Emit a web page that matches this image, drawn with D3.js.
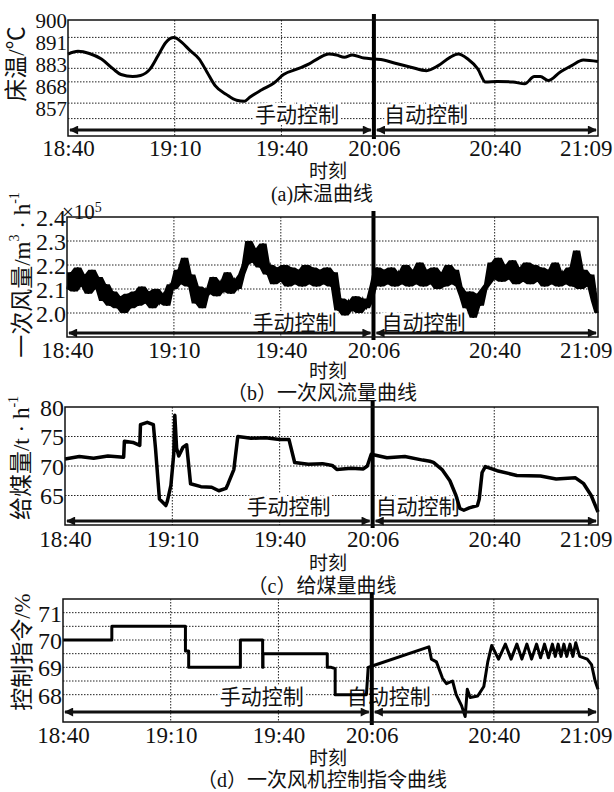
<!DOCTYPE html>
<html>
<head>
<meta charset="utf-8">
<script src="https://cdn.jsdelivr.net/npm/d3@7"></script>
<style>
body { margin: 0; background: #fff; }
text { font-family: "Liberation Serif", "Noto Sans CJK SC", serif; fill: #111; }
</style>
</head>
<body>
<div id="chart-area"></div>
<script>
// time axis
var timeLabels = ["18:40", "19:10", "19:40", "20:06", "20:40", "21:09"];
var switchLabel = "20:06";

// (a) bed temperature, minutes after 18:40
var bedTime = [0, 2.8, 6, 9.4, 12.7, 14.9, 18.2, 20.4, 23.1, 25.3, 27.5, 29.8, 32, 34.2, 36.9, 39.1, 41.3, 44.6, 47.4, 49.6,
    51.2, 54.5, 57.9, 60.6, 64.5, 67.8, 70.5, 73.3, 75.5, 77.7, 79.9, 83.2, 86.2, 88.7, 92, 96.4, 100.8, 104.1, 107.4, 109.7,
    112.4, 115.2, 117.4, 120.7, 125.1, 128.4, 131.1, 132.8, 135, 138.3, 141.6, 144.9, 149];
var bedTemp = [882.4, 883.8, 882.7, 879.8, 874.7, 871.8, 870.8, 871.3, 874.7, 881.5, 888.4, 890.9, 888.4, 884.4, 879.8, 873, 866.2, 861.4, 858.5, 858,
    860.2, 863.9, 867.4, 871.8, 874.7, 877.3, 880.3, 882.4, 881.9, 880.7, 881.9, 880.3, 879.8, 879.3, 877.6, 875.6, 873.8, 876.4, 880.7, 882.4,
    879.8, 874.7, 867.9, 868.2, 867.9, 867, 870.8, 870.8, 868.7, 873, 876.4, 879.3, 878.5];
var bedTicks = [900, 891, 883, 868, 857];
var bedGrid = [849, 857, 868, 875, 883, 891];

// (b) primary air flow (x10^5 m3/h), one reading per minute from 18:40
var airflow = [
    2.10, 2.17, 2.09, 2.19, 2.11, 2.16, 2.08, 2.18, 2.10, 2.15,
    2.05, 2.12, 2.03, 2.09, 2.02, 2.07, 2.00, 2.08, 2.02, 2.09,
    2.03, 2.11, 2.04, 2.09, 2.02, 2.10, 2.04, 2.08, 2.03, 2.12,
    2.10, 2.18, 2.12, 2.23, 2.11, 2.16, 2.04, 2.11, 2.02, 2.10,
    2.08, 2.15, 2.07, 2.13, 2.09, 2.17, 2.08, 2.14, 2.10, 2.16,
    2.20, 2.30, 2.21, 2.27, 2.19, 2.29, 2.16, 2.20, 2.12, 2.19,
    2.13, 2.20, 2.11, 2.19, 2.12, 2.18, 2.11, 2.20, 2.12, 2.19,
    2.11, 2.18, 2.12, 2.19, 2.11, 2.17, 2.01, 2.06, 1.99, 2.05,
    2.01, 2.07, 2.00, 2.06, 2.02, 2.05, 2.12, 2.19, 2.11, 2.18,
    2.12, 2.19, 2.11, 2.17, 2.12, 2.20, 2.11, 2.18, 2.12, 2.21,
    2.11, 2.18, 2.12, 2.19, 2.10, 2.17, 2.11, 2.20, 2.12, 2.18,
    2.11, 2.07, 2.02, 2.09, 1.98, 2.08, 2.03, 2.10, 2.12, 2.21,
    2.14, 2.23, 2.13, 2.20, 2.14, 2.22, 2.12, 2.19, 2.13, 2.21,
    2.12, 2.20, 2.13, 2.19, 2.11, 2.18, 2.12, 2.21, 2.11, 2.17,
    2.12, 2.19, 2.11, 2.26, 2.10, 2.18, 2.11, 2.16, 2.05, 2.00];
var airTicks = [2.0, 2.1, 2.2, 2.3, 2.4];
var airGrid = [2.0, 2.1, 2.2, 2.3];

// (c) coal feed rate
var coalTime = [0, 4, 8, 12, 16.4, 16.6, 19, 20.9, 21.1, 23, 24.7, 25.3, 26.4, 28.2, 28.6, 29.6, 30.4, 30.7, 31.2, 31.8,
    33, 34, 34.6, 35.1, 38, 41, 43, 45, 45.6, 47.2, 48.3, 52, 56, 60, 62.6, 64.2, 68, 72, 74.7, 76,
    80, 83.4, 84.5, 85.6, 90, 95, 100, 102, 103, 105.4, 107.6, 109.3, 110.4, 111.5, 113, 115.3, 115.8, 116.6, 117.5, 120.8,
    126.3, 132.9, 137.3, 142.7, 145, 147.1, 149];
var coalRate = [71.2, 71.6, 71.3, 71.7, 71.5, 74.2, 74, 73.5, 77.0, 77.4, 77.0, 73, 64.4, 63.3, 64, 66.7, 72, 78.6, 73, 71.7,
    73.2, 73.6, 70, 67, 66.5, 66.4, 65.8, 66.2, 67, 69.4, 75, 74.7, 74.8, 74.5, 74.5, 70.6, 70.3, 70.4, 70.1, 69.4,
    69.6, 69.5, 70, 72, 71.4, 71.6, 71.0, 70.8, 70.6, 69.4, 67.5, 65, 62.8, 62.5, 62.9, 63.3, 64.4, 68.9, 69.9, 69.2,
    68.4, 68.3, 67.8, 68.0, 67, 65, 62.2];
var coalTicks = [65, 70, 75, 80];
var coalGrid = [65, 70, 75];

// (d) fan control command
var cmdTime = [0, 13.6, 13.6, 34.1, 34.1, 35, 35, 49.4, 49.4, 55.6, 55.6, 55.7, 55.7, 73.6, 73.6, 74.7, 75.8, 75.8, 84.5, 85,
    86.1, 101.9, 102.6, 104, 105.7, 106.8, 108.5, 109.5, 111, 112, 112.6, 113.4, 115.5, 117.2, 118.3, 119.4, 121.3, 123.2, 124.8, 126.4,
    127.8, 129.2, 130.5, 131.9, 133, 134.1, 135.2, 136.3, 137.1, 137.9, 138.7, 139.5, 140.3, 141.2, 142, 142.8, 143.9, 146, 147.2, 148.2,
    149];
var cmdValue = [70, 70, 70.5, 70.5, 69.6, 69.6, 69, 69, 70, 70, 69, 69, 69.5, 69.5, 69, 69, 68.95, 68, 68, 69,
    69.05, 69.75, 69.3, 69.2, 68.6, 68.4, 68.5, 68.0, 67.6, 67.2, 68.2, 67.9, 67.95, 68.3, 69.2, 69.8, 69.3, 69.85, 69.3, 69.85,
    69.3, 69.85, 69.3, 69.85, 69.35, 69.85, 69.35, 69.85, 69.4, 69.85, 69.4, 69.85, 69.4, 69.85, 69.4, 69.9, 69.4, 69.3, 69.1, 68.5,
    68.2];
var cmdTicks = [68, 69, 70, 71];
var cmdGrid = [68, 68.5, 69, 69.5, 70, 70.5, 71];

var yTitles = [
    [["床温/℃", 0]],
    [["一次风量/m", 0], ["3", 1], [" · h", 0], ["-1", 1]],
    [["给煤量/t · h", 0], ["-1", 1]],
    [["控制指令/%", 0]]
];
var captions = ["(a)床温曲线", "（b）一次风流量曲线", "（c）给煤量曲线", "（d）一次风机控制指令曲线"];

var svg = d3.select("#chart-area")
    .append("svg")
        .attr("width", 614)
        .attr("height", 792);

function toMin(s) {
    var p = s.split(":"), p0 = timeLabels[0].split(":");
    return (+p[0] * 60 + +p[1]) - (+p0[0] * 60 + +p0[1]);
}

var defs = svg.append("defs");
defs.append("marker")
    .attr("id", "head")
    .attr("viewBox", "0 0 10 10")
    .attr("refX", 9).attr("refY", 5)
    .attr("markerUnits", "userSpaceOnUse")
    .attr("markerWidth", 12).attr("markerHeight", 9)
    .attr("orient", "auto-start-reverse")
    .append("path")
        .attr("d", "M0,0 L10,5 L0,10 z")
        .attr("fill", "#111");

function drawPanel(p, idx) {
    var x = d3.scaleLinear()
        .domain([0, toMin(timeLabels[timeLabels.length - 1])])
        .range([p.left, p.right]);
    var y = d3.scaleLinear()
        .domain(p.yDomain)
        .range([p.bottom, p.top]);
    var sw = x(toMin(switchLabel));
    var g = svg.append("g");

    g.selectAll("line.hgrid")
        .data(p.grid)
        .enter().append("line")
            .attr("x1", p.left).attr("x2", p.right)
            .attr("y1", function(d) { return y(d); })
            .attr("y2", function(d) { return y(d); })
            .attr("stroke", "#222").attr("stroke-width", 1)
            .attr("stroke-dasharray", "1.5,1.5");

    var vt = timeLabels.slice(1, -1).filter(function(s) { return s !== switchLabel; }).map(toMin);
    g.selectAll("line.vgrid")
        .data(vt)
        .enter().append("line")
            .attr("x1", function(d) { return x(d); })
            .attr("x2", function(d) { return x(d); })
            .attr("y1", p.top).attr("y2", p.bottom)
            .attr("stroke", "#222").attr("stroke-width", 1)
            .attr("stroke-dasharray", "1.5,1.5");

    // mode labels
    g.append("text")
        .attr("x", sw - p.manualGap).attr("y", p.labelY)
        .attr("text-anchor", "end")
        .attr("font-size", 21)
        .attr("stroke", "#fff").attr("stroke-width", 6).attr("paint-order", "stroke")
        .text("手动控制");
    g.append("text")
        .attr("x", sw + p.autoGap).attr("y", p.labelY)
        .attr("font-size", 21)
        .attr("stroke", "#fff").attr("stroke-width", 6).attr("paint-order", "stroke")
        .text("自动控制");

    // y axis (panel a prints its labels evenly spaced, as the original does)
    var yLab = p.labelRange
        ? d3.scalePoint().domain(p.ticks).range(p.labelRange)
        : y;
    var yAxisCall = d3.axisLeft(yLab)
        .tickValues(p.ticks)
        .tickSize(0)
        .tickPadding(1)
        .tickFormat(p.fmt);
    var ya = g.append("g")
        .attr("transform", "translate(" + p.left + ",0)")
        .call(yAxisCall);
    ya.select(".domain").remove();
    ya.selectAll("text").attr("font-size", p.yFont || 24).attr("dy", "0.35em");

    var xAxisCall = d3.axisBottom(x)
        .tickValues(timeLabels.map(toMin))
        .tickSize(0)
        .tickPadding(p.xPad)
        .tickFormat(function(d, i) { return timeLabels[i]; });
    var xa = g.append("g")
        .attr("transform", "translate(0," + p.bottom + ")")
        .call(xAxisCall);
    xa.select(".domain").remove();
    xa.selectAll("text").attr("font-size", 23);
    xa.selectAll("text")
        .filter(function(d, i) { return i === timeLabels.length - 1; })
        .attr("text-anchor", "end")
        .attr("x", 14);

    g.append("text")
        .attr("x", 328).attr("y", p.xTitleY)
        .attr("text-anchor", "middle")
        .attr("font-size", 19)
        .text("时刻");
    g.append("text")
        .attr("x", 322).attr("y", p.captionY)
        .attr("text-anchor", "middle")
        .attr("font-size", 20)
        .text(captions[idx]);

    var yt = g.append("text")
        .attr("transform", "translate(" + p.titleX + "," + p.titleY + ") rotate(-90)")
        .attr("text-anchor", "middle")
        .attr("dominant-baseline", "central")
        .attr("font-size", 23);
    yTitles[idx].forEach(function(part) {
        yt.append("tspan")
            .attr("font-size", part[1] ? 14 : 23)
            .attr("baseline-shift", part[1] ? "super" : null)
            .text(part[0]);
    });

    return { g: g, x: x, y: y, sw: sw };
}

function finishPanel(P, p) {
    var g = P.g;
    // switch line
    g.append("line")
        .attr("x1", P.sw).attr("x2", P.sw)
        .attr("y1", p.top - 6).attr("y2", p.bottom + 3)
        .attr("stroke", "#000").attr("stroke-width", 4);
    // mode arrows
    [[p.left + 2, P.sw - 3], [P.sw + 3, p.right - 2]].forEach(function(s) {
        g.append("line")
            .attr("x1", s[0]).attr("x2", s[1])
            .attr("y1", p.arrowY).attr("y2", p.arrowY)
            .attr("stroke", "#111").attr("stroke-width", 3)
            .attr("marker-start", "url(#head)")
            .attr("marker-end", "url(#head)");
    });
    g.append("rect")
        .attr("x", p.left).attr("y", p.top)
        .attr("width", p.right - p.left).attr("height", p.bottom - p.top)
        .attr("fill", "none").attr("stroke", "#111").attr("stroke-width", 1.5);
}

var fmt0 = d3.format("d"), fmt1 = d3.format(".1f");

// (a)
var pa = { left: 68, right: 598, top: 20, bottom: 136, yDomain: [840, 900], ticks: bedTicks, grid: bedGrid, fmt: fmt0,
    labelRange: [20, 108], yFont: 21,
    xPad: 4, xTitleY: 178, captionY: 201, titleX: 16, titleY: 64, labelY: 122, arrowY: 130, manualGap: 35, autoGap: 10 };
var A = drawPanel(pa, 0);
A.g.append("path")
    .datum(bedTime)
    .attr("d", d3.line()
        .x(function(d) { return A.x(d); })
        .y(function(d, i) { return A.y(bedTemp[i]); })
        .curve(d3.curveMonotoneX))
    .attr("fill", "none").attr("stroke", "#000").attr("stroke-width", 3);
finishPanel(A, pa);

// (b)
var pb = { left: 67, right: 598, top: 217, bottom: 337, yDomain: [1.9, 2.4], ticks: airTicks, grid: airGrid, fmt: fmt1,
    xPad: 5, xTitleY: 378, captionY: 400, titleX: 22, titleY: 275, labelY: 330, arrowY: 333, manualGap: 37, autoGap: 8 };
var B = drawPanel(pb, 1);
// fill the noisy band between neighbouring readings
B.g.append("path")
    .datum(airflow)
    .attr("d", d3.area()
        .x(function(d, i) { return B.x(i); })
        .y0(function(d, i) { return B.y(d3.min(airflow.slice(Math.max(0, i - 1), i + 2))); })
        .y1(function(d, i) { return B.y(d3.max(airflow.slice(Math.max(0, i - 1), i + 2))); }))
    .attr("fill", "#000");
B.g.append("path")
    .datum(airflow)
    .attr("d", d3.line()
        .x(function(d, i) { return B.x(i); })
        .y(function(d) { return B.y(d); }))
    .attr("fill", "none").attr("stroke", "#000").attr("stroke-width", 1.6);
var sci = B.g.append("text")
    .attr("x", 62).attr("y", 219);
sci.append("tspan").attr("font-size", 21).text("×10");
sci.append("tspan").attr("font-size", 14).attr("baseline-shift", "super").text("5");
finishPanel(B, pb);

// (c)
var pc = { left: 65, right: 598, top: 407, bottom: 525, yDomain: [60, 80], ticks: coalTicks, grid: coalGrid, fmt: fmt0,
    xPad: 6, xTitleY: 570, captionY: 593, titleX: 21, titleY: 458, labelY: 514, arrowY: 521, manualGap: 42, autoGap: 3 };
var C = drawPanel(pc, 2);
C.g.append("path")
    .datum(coalTime)
    .attr("d", d3.line()
        .x(function(d) { return C.x(d); })
        .y(function(d, i) { return C.y(coalRate[i]); }))
    .attr("fill", "none").attr("stroke", "#000").attr("stroke-width", 3.5)
    .attr("stroke-linejoin", "round");
finishPanel(C, pc);

// (d)
var pd = { left: 63, right: 598, top: 599, bottom: 722, yDomain: [67, 71.5], ticks: cmdTicks, grid: cmdGrid, fmt: fmt0,
    xPad: 5, xTitleY: 765, captionY: 787, titleX: 22, titleY: 652, labelY: 704, arrowY: 712, manualGap: 68, autoGap: -25 };
var D = drawPanel(pd, 3);
D.g.append("path")
    .datum(cmdTime)
    .attr("d", d3.line()
        .x(function(d) { return D.x(d); })
        .y(function(d, i) { return D.y(cmdValue[i]); }))
    .attr("fill", "none").attr("stroke", "#000").attr("stroke-width", 3)
    .attr("stroke-linejoin", "round");
finishPanel(D, pd);
</script>
</body>
</html>
